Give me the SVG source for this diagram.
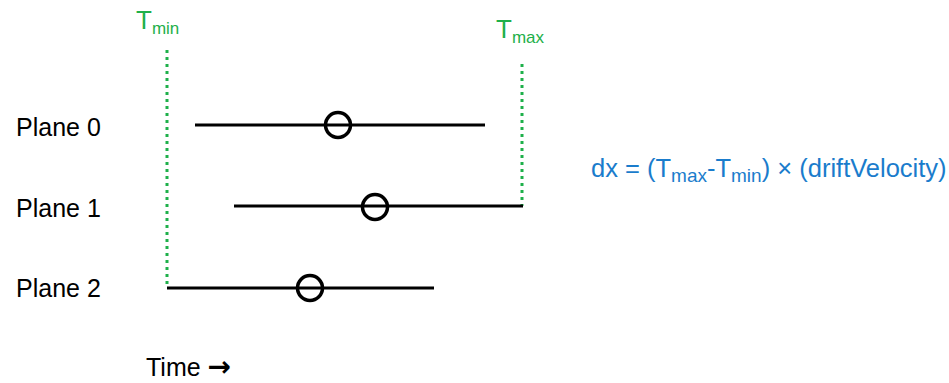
<svg xmlns="http://www.w3.org/2000/svg" width="949" height="383" viewBox="0 0 949 383">
  <style>
    .lbl { font-family: "Liberation Sans", Arial, sans-serif; font-size: 25px; fill: #000; }
    .grn { font-family: "Liberation Sans", Arial, sans-serif; fill: #1eb04a; }
    .blu { font-family: "Liberation Sans", Arial, sans-serif; font-size: 25.5px; fill: #1a7ccc; }
    .track { stroke: #000; stroke-width: 3; fill: none; }
    .hit { stroke: #000; stroke-width: 3.5; fill: none; }
    .win { stroke: #1eb04a; stroke-width: 3; stroke-dasharray: 3 4; fill: none; }
  </style>
  <rect width="949" height="383" fill="#fff"/>

  <!-- time window limits -->
  <g id="tmin">
    <text class="grn" x="136" y="29"><tspan font-size="26">T</tspan><tspan font-size="17" dy="5">min</tspan></text>
  </g>
  <g id="tmax">
    <text class="grn" x="496" y="38"><tspan font-size="26">T</tspan><tspan font-size="17" dy="5">max</tspan></text>
  </g>

  <!-- plane labels -->
  <g id="plane0"><text class="lbl" x="16" y="136">Plane 0</text></g>
  <g id="plane1"><text class="lbl" x="16" y="217">Plane 1</text></g>
  <g id="plane2"><text class="lbl" x="16" y="297">Plane 2</text></g>

  <g id="connectors">
    <line class="win" x1="167" y1="50" x2="167" y2="288"/>
    <line class="win" x1="522" y1="64" x2="522" y2="206"/>
    <line class="track" x1="195" y1="125" x2="485" y2="125"/>
    <line class="track" x1="234" y1="206" x2="523" y2="206"/>
    <line class="track" x1="167" y1="288" x2="434" y2="288"/>
  </g>

  <!-- hits -->
  <g id="hit0"><circle class="hit" cx="338" cy="125" r="12.5"/></g>
  <g id="hit1"><circle class="hit" cx="375" cy="207" r="12.5"/></g>
  <g id="hit2"><circle class="hit" cx="310" cy="288" r="12.5"/></g>

  <g id="formula">
    <text class="blu" x="591" y="177">dx = (T<tspan font-size="19" dy="5">max</tspan><tspan dy="-5">-T</tspan><tspan font-size="19" dy="5">min</tspan><tspan dy="-5">) × (driftVelocity)</tspan></text>
  </g>

  <g id="timeaxis"><text class="lbl" x="146" y="376">Time <tspan font-family="'Noto Sans', 'DejaVu Sans', sans-serif" font-size="28" font-weight="bold">→</tspan></text></g>
</svg>
